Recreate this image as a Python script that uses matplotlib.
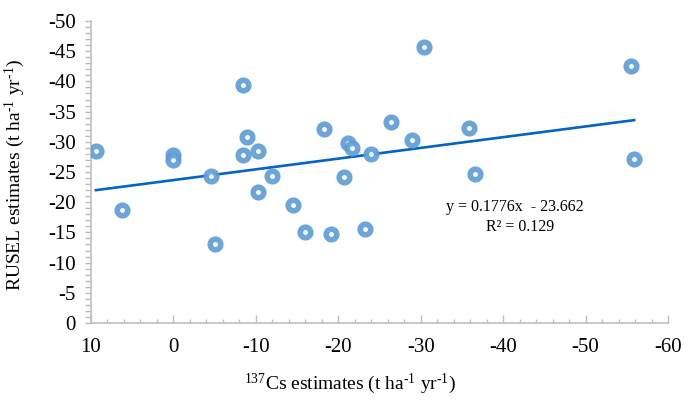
import numpy as np
import matplotlib.pyplot as plt
from matplotlib.ticker import MultipleLocator

# Dane
cs_est = [9.4, 6.2, 0.0, 0.0, -4.6, -5.1, -8.5, -8.5, -8.9, -10.2, -10.2, -12.0,
          -14.5, -16.0, -18.3, -19.1, -21.2, -21.7, -20.7, -24.0, -23.3, -26.4,
          -29.0, -30.4, -35.9, -36.6, -55.5, -55.9]
rusle_est = [-28.5, -18.7, -27.8, -27.0, -24.3, -13.1, -39.4, -27.8, -30.8, -28.5,
             -21.7, -24.3, -19.5, -15.1, -32.1, -14.7, -29.8, -29.0, -24.2, -28.0,
             -15.6, -33.3, -30.3, -45.7, -32.3, -24.7, -42.5, -27.2]
slope = 0.1776
intercept = -23.662
r2 = 0.129

plt.rcParams['font.family'] = ['Liberation Serif', 'DejaVu Serif']
plt.rcParams['axes.unicode_minus'] = False
plt.rcParams['mathtext.fontset'] = 'custom'
plt.rcParams['mathtext.rm'] = 'Liberation Serif'

fig = plt.figure(figsize=(6.85, 4.03), dpi=100)
ax = fig.add_axes([91/685, 1 - 323/403, (668 - 91)/685, (323 - 21)/403])

ax.plot(cs_est, rusle_est, linestyle='none', marker='o', markersize=7.6,
        markerfacecolor='white', markeredgecolor='#5B9BD5', markeredgewidth=4.0,
        alpha=0.9, zorder=3)

x_fit = np.array([max(cs_est), min(cs_est)])
ax.plot(x_fit, slope * x_fit + intercept, color='#0563C1', linewidth=1.9, zorder=2)

ax.set_xlim(10, -60)
ax.set_ylim(0, -50)
ax.xaxis.set_major_locator(MultipleLocator(10))
ax.xaxis.set_minor_locator(MultipleLocator(2))
ax.yaxis.set_major_locator(MultipleLocator(5))
ax.yaxis.set_minor_locator(MultipleLocator(1))

for s in ['top', 'right']:
    ax.spines[s].set_visible(False)
for s in ['left', 'bottom']:
    ax.spines[s].set_color('#BFBFBF')
    ax.spines[s].set_linewidth(1.2)

ax.tick_params(axis='x', which='major', direction='in', length=6, width=1, color='#BFBFBF',
               labelsize=15, pad=11)
ax.tick_params(axis='x', which='minor', direction='in', length=3, width=1, color='#BFBFBF')
ax.tick_params(axis='y', which='both', direction='out', length=4, width=1, color='#BFBFBF',
               labelsize=15, pad=7)

ax.text(515/685, 1 - 207/403, "y = 0.1776x  - 23.662", transform=fig.transFigure,
        ha='center', va='center', fontsize=11.5)
ax.text(520/685, 1 - 227/403, f"R² = {r2}", transform=fig.transFigure,
        ha='center', va='center', fontsize=11.5)

sup = r"$\mathregular{^{\text{-}1}}$"
fig.text(350/685, 1 - 384/403, r"$\mathregular{^{137}}$Cs estimates (t ha" + sup + " yr" + sup + ")",
         ha='center', va='center', fontsize=14)
fig.text(15/685, 1 - 175/403, "RUSEL estimates (t ha" + sup + " yr" + sup + ")",
         ha='center', va='center', rotation=90, fontsize=14)

fig.savefig('out.png', dpi=100)
